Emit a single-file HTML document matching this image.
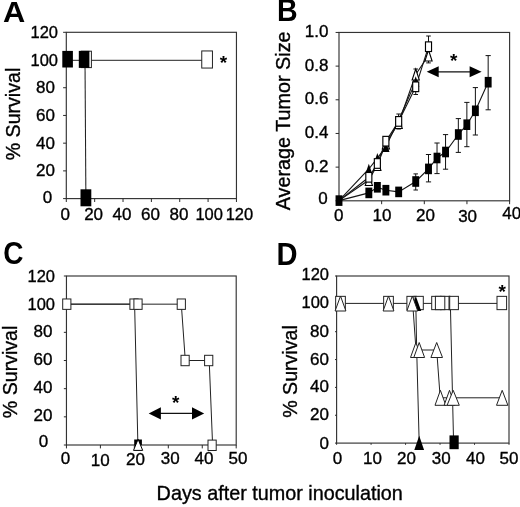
<!DOCTYPE html>
<html><head><meta charset="utf-8"><title>Figure</title>
<style>
html,body{margin:0;padding:0;background:#fff;}
body{width:520px;height:507px;overflow:hidden;}
svg{display:block;will-change:transform;}
svg text{font-family:"Liberation Sans",sans-serif;fill:#000;stroke:#000;stroke-width:0.35px;paint-order:stroke;}
svg text.b{stroke:none;}
</style></head><body>
<svg width="520" height="507" viewBox="0 0 520 507">
<rect x="0" y="0" width="520" height="507" fill="#fff"/>
<rect x="66.30" y="32.30" width="170.15" height="166.30" fill="none" stroke="#333" stroke-width="1.15"/>
<line x1="63.10" y1="198.60" x2="66.30" y2="198.60" stroke="#2a2a2a" stroke-width="1.0"/>
<line x1="66.30" y1="198.60" x2="66.30" y2="202.00" stroke="#2a2a2a" stroke-width="1.0"/>
<line x1="63.10" y1="170.88" x2="66.30" y2="170.88" stroke="#2a2a2a" stroke-width="1.0"/>
<line x1="94.66" y1="198.60" x2="94.66" y2="202.00" stroke="#2a2a2a" stroke-width="1.0"/>
<line x1="63.10" y1="143.17" x2="66.30" y2="143.17" stroke="#2a2a2a" stroke-width="1.0"/>
<line x1="123.02" y1="198.60" x2="123.02" y2="202.00" stroke="#2a2a2a" stroke-width="1.0"/>
<line x1="63.10" y1="115.45" x2="66.30" y2="115.45" stroke="#2a2a2a" stroke-width="1.0"/>
<line x1="151.38" y1="198.60" x2="151.38" y2="202.00" stroke="#2a2a2a" stroke-width="1.0"/>
<line x1="63.10" y1="87.73" x2="66.30" y2="87.73" stroke="#2a2a2a" stroke-width="1.0"/>
<line x1="179.73" y1="198.60" x2="179.73" y2="202.00" stroke="#2a2a2a" stroke-width="1.0"/>
<line x1="63.10" y1="60.02" x2="66.30" y2="60.02" stroke="#2a2a2a" stroke-width="1.0"/>
<line x1="208.09" y1="198.60" x2="208.09" y2="202.00" stroke="#2a2a2a" stroke-width="1.0"/>
<line x1="63.10" y1="32.30" x2="66.30" y2="32.30" stroke="#2a2a2a" stroke-width="1.0"/>
<line x1="236.45" y1="198.60" x2="236.45" y2="202.00" stroke="#2a2a2a" stroke-width="1.0"/>
<text x="52.30" y="203.30" font-size="17" text-anchor="end" font-weight="normal" >0</text>
<text x="55.00" y="176.18" font-size="17" text-anchor="end" font-weight="normal" >20</text>
<text x="55.00" y="148.67" font-size="17" text-anchor="end" font-weight="normal" >40</text>
<text x="55.00" y="120.95" font-size="17" text-anchor="end" font-weight="normal" >60</text>
<text x="55.00" y="93.23" font-size="17" text-anchor="end" font-weight="normal" >80</text>
<text x="58.00" y="65.52" font-size="17" text-anchor="end" font-weight="normal"  textLength="27.5" lengthAdjust="spacingAndGlyphs">100</text>
<text x="58.00" y="37.80" font-size="17" text-anchor="end" font-weight="normal"  textLength="27.5" lengthAdjust="spacingAndGlyphs">120</text>
<text x="65.30" y="220.40" font-size="17" text-anchor="middle" font-weight="normal" >0</text>
<text x="93.60" y="220.40" font-size="17" text-anchor="middle" font-weight="normal" >20</text>
<text x="122.00" y="220.40" font-size="17" text-anchor="middle" font-weight="normal" >40</text>
<text x="150.40" y="220.40" font-size="17" text-anchor="middle" font-weight="normal" >60</text>
<text x="179.00" y="220.40" font-size="17" text-anchor="middle" font-weight="normal" >80</text>
<text x="209.20" y="220.40" font-size="17" text-anchor="middle" font-weight="normal"  textLength="27.5" lengthAdjust="spacingAndGlyphs">100</text>
<text x="239.40" y="220.40" font-size="17" text-anchor="middle" font-weight="normal"  textLength="27.5" lengthAdjust="spacingAndGlyphs">120</text>
<line x1="66.30" y1="60.30" x2="207.00" y2="60.30" stroke="#222" stroke-width="1.0"/>
<line x1="85.00" y1="60.30" x2="85.90" y2="198.60" stroke="#222" stroke-width="1.05"/>
<rect x="81.20" y="51.20" width="10.20" height="16.40" fill="#fff" stroke="#222" stroke-width="1.0"/>
<rect x="62.30" y="50.90" width="10.60" height="16.60" fill="#000"/>
<rect x="78.80" y="50.90" width="10.60" height="17.00" fill="#000"/>
<rect x="80.50" y="189.30" width="10.80" height="17.00" fill="#000"/>
<rect x="201.75" y="50.95" width="10.70" height="17.10" fill="#fff" stroke="#222" stroke-width="1.0"/>
<text x="219.70" y="69.30" font-size="19" font-weight="bold" class="b">*</text>
<text transform="translate(3.00,21.90) scale(1.1,1.08)" font-size="28" font-weight="bold" class="b">A</text>
<text transform="translate(20.00,160.30) rotate(-90)" font-size="19.6" text-anchor="start" >% Survival</text>
<rect x="339.00" y="32.45" width="170.60" height="168.35" fill="none" stroke="#333" stroke-width="1.15"/>
<line x1="335.60" y1="200.80" x2="339.00" y2="200.80" stroke="#2a2a2a" stroke-width="1.0"/>
<line x1="335.60" y1="167.13" x2="339.00" y2="167.13" stroke="#2a2a2a" stroke-width="1.0"/>
<line x1="335.60" y1="133.46" x2="339.00" y2="133.46" stroke="#2a2a2a" stroke-width="1.0"/>
<line x1="335.60" y1="99.79" x2="339.00" y2="99.79" stroke="#2a2a2a" stroke-width="1.0"/>
<line x1="335.60" y1="66.12" x2="339.00" y2="66.12" stroke="#2a2a2a" stroke-width="1.0"/>
<line x1="335.60" y1="32.45" x2="339.00" y2="32.45" stroke="#2a2a2a" stroke-width="1.0"/>
<line x1="339.00" y1="200.80" x2="339.00" y2="204.20" stroke="#2a2a2a" stroke-width="1.0"/>
<line x1="381.65" y1="200.80" x2="381.65" y2="204.20" stroke="#2a2a2a" stroke-width="1.0"/>
<line x1="424.30" y1="200.80" x2="424.30" y2="204.20" stroke="#2a2a2a" stroke-width="1.0"/>
<line x1="466.95" y1="200.80" x2="466.95" y2="204.20" stroke="#2a2a2a" stroke-width="1.0"/>
<line x1="509.60" y1="200.80" x2="509.60" y2="204.20" stroke="#2a2a2a" stroke-width="1.0"/>
<text x="327.80" y="203.70" font-size="17" text-anchor="end" font-weight="normal" >0</text>
<text x="328.50" y="171.83" font-size="17" text-anchor="end" font-weight="normal" >0.2</text>
<text x="328.50" y="138.16" font-size="17" text-anchor="end" font-weight="normal" >0.4</text>
<text x="328.50" y="104.49" font-size="17" text-anchor="end" font-weight="normal" >0.6</text>
<text x="328.50" y="70.82" font-size="17" text-anchor="end" font-weight="normal" >0.8</text>
<text x="328.50" y="37.15" font-size="17" text-anchor="end" font-weight="normal" >1.0</text>
<text x="338.80" y="221.30" font-size="17" text-anchor="middle" font-weight="normal" >0</text>
<text x="382.00" y="221.30" font-size="17" text-anchor="middle" font-weight="normal" >10</text>
<text x="425.50" y="221.30" font-size="17" text-anchor="middle" font-weight="normal" >20</text>
<text x="467.60" y="222.00" font-size="17" text-anchor="middle" font-weight="normal" >30</text>
<text x="511.80" y="218.70" font-size="17" text-anchor="middle" font-weight="normal" >40</text>
<polyline points="339.00,200.60 368.83,169.00 377.36,158.20 385.88,146.80 398.67,120.00 415.72,81.60" fill="none" stroke="#151515" stroke-width="1.1"/>
<polyline points="339.00,200.60 368.83,180.00 377.36,165.00 385.88,143.50 398.67,123.00 415.72,74.50 428.50,55.50" fill="none" stroke="#151515" stroke-width="1.1"/>
<polyline points="339.00,200.60 368.83,177.30 377.36,163.50 385.88,141.20 398.67,121.40 415.72,86.80 428.50,46.70" fill="none" stroke="#151515" stroke-width="1.1"/>
<polyline points="339.00,200.60 368.83,192.90 377.36,187.30 385.88,190.20 398.67,191.90 415.72,181.50 428.50,168.90 437.03,158.00 445.55,152.00 458.34,134.50 466.86,124.70 475.38,110.80 488.17,82.20" fill="none" stroke="#151515" stroke-width="1.1"/>
<line x1="428.50" y1="154.50" x2="428.50" y2="181.90" stroke="#111" stroke-width="1.0"/>
<line x1="425.90" y1="154.50" x2="431.10" y2="154.50" stroke="#111" stroke-width="1.0"/>
<line x1="425.90" y1="181.90" x2="431.10" y2="181.90" stroke="#111" stroke-width="1.0"/>
<line x1="437.03" y1="143.00" x2="437.03" y2="173.60" stroke="#111" stroke-width="1.0"/>
<line x1="434.43" y1="143.00" x2="439.63" y2="143.00" stroke="#111" stroke-width="1.0"/>
<line x1="434.43" y1="173.60" x2="439.63" y2="173.60" stroke="#111" stroke-width="1.0"/>
<line x1="445.55" y1="134.60" x2="445.55" y2="169.20" stroke="#111" stroke-width="1.0"/>
<line x1="442.95" y1="134.60" x2="448.15" y2="134.60" stroke="#111" stroke-width="1.0"/>
<line x1="442.95" y1="169.20" x2="448.15" y2="169.20" stroke="#111" stroke-width="1.0"/>
<line x1="458.34" y1="118.60" x2="458.34" y2="152.40" stroke="#111" stroke-width="1.0"/>
<line x1="455.74" y1="118.60" x2="460.94" y2="118.60" stroke="#111" stroke-width="1.0"/>
<line x1="455.74" y1="152.40" x2="460.94" y2="152.40" stroke="#111" stroke-width="1.0"/>
<line x1="466.86" y1="102.40" x2="466.86" y2="146.70" stroke="#111" stroke-width="1.0"/>
<line x1="464.26" y1="102.40" x2="469.46" y2="102.40" stroke="#111" stroke-width="1.0"/>
<line x1="464.26" y1="146.70" x2="469.46" y2="146.70" stroke="#111" stroke-width="1.0"/>
<line x1="475.38" y1="87.60" x2="475.38" y2="135.00" stroke="#111" stroke-width="1.0"/>
<line x1="472.78" y1="87.60" x2="477.98" y2="87.60" stroke="#111" stroke-width="1.0"/>
<line x1="472.78" y1="135.00" x2="477.98" y2="135.00" stroke="#111" stroke-width="1.0"/>
<line x1="488.17" y1="55.60" x2="488.17" y2="109.80" stroke="#111" stroke-width="1.0"/>
<line x1="485.57" y1="55.60" x2="490.77" y2="55.60" stroke="#111" stroke-width="1.0"/>
<line x1="485.57" y1="109.80" x2="490.77" y2="109.80" stroke="#111" stroke-width="1.0"/>
<line x1="415.72" y1="173.90" x2="415.72" y2="190.00" stroke="#111" stroke-width="1.0"/>
<line x1="413.47" y1="173.90" x2="417.97" y2="173.90" stroke="#111" stroke-width="1.0"/>
<line x1="413.47" y1="190.00" x2="417.97" y2="190.00" stroke="#111" stroke-width="1.0"/>
<line x1="428.50" y1="36.00" x2="428.50" y2="62.90" stroke="#111" stroke-width="1.0"/>
<line x1="426.20" y1="36.00" x2="430.80" y2="36.00" stroke="#111" stroke-width="1.0"/>
<line x1="426.20" y1="62.90" x2="430.80" y2="62.90" stroke="#111" stroke-width="1.0"/>
<line x1="415.72" y1="69.00" x2="415.72" y2="94.50" stroke="#111" stroke-width="1.0"/>
<line x1="413.42" y1="69.00" x2="418.02" y2="69.00" stroke="#111" stroke-width="1.0"/>
<line x1="413.42" y1="94.50" x2="418.02" y2="94.50" stroke="#111" stroke-width="1.0"/>
<line x1="398.67" y1="114.00" x2="398.67" y2="129.00" stroke="#111" stroke-width="1.0"/>
<line x1="396.37" y1="114.00" x2="400.97" y2="114.00" stroke="#111" stroke-width="1.0"/>
<line x1="396.37" y1="129.00" x2="400.97" y2="129.00" stroke="#111" stroke-width="1.0"/>
<line x1="368.83" y1="171.00" x2="368.83" y2="185.00" stroke="#111" stroke-width="1.0"/>
<line x1="366.83" y1="171.00" x2="370.83" y2="171.00" stroke="#111" stroke-width="1.0"/>
<line x1="366.83" y1="185.00" x2="370.83" y2="185.00" stroke="#111" stroke-width="1.0"/>
<polygon points="368.83,174.50 372.43,185.50 365.23,185.50" fill="#fff" stroke="#000" stroke-width="1.1" stroke-linejoin="miter"/>
<polygon points="377.36,159.50 380.96,170.50 373.76,170.50" fill="#fff" stroke="#000" stroke-width="1.1" stroke-linejoin="miter"/>
<polygon points="385.88,138.00 389.48,149.00 382.28,149.00" fill="#fff" stroke="#000" stroke-width="1.1" stroke-linejoin="miter"/>
<polygon points="398.67,117.50 402.27,128.50 395.07,128.50" fill="#fff" stroke="#000" stroke-width="1.1" stroke-linejoin="miter"/>
<polygon points="415.72,69.00 419.32,80.00 412.12,80.00" fill="#fff" stroke="#000" stroke-width="1.1" stroke-linejoin="miter"/>
<polygon points="428.50,50.00 432.10,61.00 424.90,61.00" fill="#fff" stroke="#000" stroke-width="1.1" stroke-linejoin="miter"/>
<polygon points="368.83,163.75 372.43,174.25 365.23,174.25" fill="#000"/>
<polygon points="377.36,152.95 380.96,163.45 373.76,163.45" fill="#000"/>
<polygon points="385.88,141.55 389.48,152.05 382.28,152.05" fill="#000"/>
<polygon points="398.67,114.75 402.27,125.25 395.07,125.25" fill="#000"/>
<polygon points="415.72,76.35 419.32,86.85 412.12,86.85" fill="#000"/>
<rect x="365.81" y="172.47" width="6.05" height="9.65" fill="#fff" stroke="#000" stroke-width="1.15"/>
<rect x="374.33" y="158.67" width="6.05" height="9.65" fill="#fff" stroke="#000" stroke-width="1.15"/>
<rect x="382.86" y="136.37" width="6.05" height="9.65" fill="#fff" stroke="#000" stroke-width="1.15"/>
<rect x="395.64" y="116.58" width="6.05" height="9.65" fill="#fff" stroke="#000" stroke-width="1.15"/>
<rect x="412.69" y="81.97" width="6.05" height="9.65" fill="#fff" stroke="#000" stroke-width="1.15"/>
<rect x="425.48" y="41.88" width="6.05" height="9.65" fill="#fff" stroke="#000" stroke-width="1.15"/>
<rect x="335.55" y="195.30" width="6.90" height="10.60" fill="#000"/>
<rect x="365.38" y="187.60" width="6.90" height="10.60" fill="#000"/>
<rect x="373.91" y="182.00" width="6.90" height="10.60" fill="#000"/>
<rect x="382.43" y="184.90" width="6.90" height="10.60" fill="#000"/>
<rect x="395.22" y="186.60" width="6.90" height="10.60" fill="#000"/>
<rect x="412.27" y="176.20" width="6.90" height="10.60" fill="#000"/>
<rect x="425.05" y="163.60" width="6.90" height="10.60" fill="#000"/>
<rect x="433.58" y="152.70" width="6.90" height="10.60" fill="#000"/>
<rect x="442.10" y="146.70" width="6.90" height="10.60" fill="#000"/>
<rect x="454.89" y="129.20" width="6.90" height="10.60" fill="#000"/>
<rect x="463.41" y="119.40" width="6.90" height="10.60" fill="#000"/>
<rect x="471.93" y="105.50" width="6.90" height="10.60" fill="#000"/>
<rect x="484.72" y="76.90" width="6.90" height="10.60" fill="#000"/>
<line x1="437.70" y1="71.80" x2="470.60" y2="71.80" stroke="#111" stroke-width="1.2"/>
<polygon points="426.70,71.80 438.70,66.30 438.70,77.30" fill="#000"/>
<polygon points="481.60,71.80 469.60,66.30 469.60,77.30" fill="#000"/>
<text x="449.90" y="67.20" font-size="19" font-weight="bold" class="b">*</text>
<text transform="translate(276.90,21.20) scale(1.02,1.1)" font-size="28" font-weight="bold" class="b">B</text>
<text transform="translate(289.60,210.30) rotate(-90)" font-size="19.8" text-anchor="start" >Average Tumor Size</text>
<rect x="66.45" y="276.00" width="169.75" height="169.00" fill="none" stroke="#333" stroke-width="1.15"/>
<line x1="63.85" y1="445.00" x2="66.45" y2="445.00" stroke="#2a2a2a" stroke-width="1.0"/>
<line x1="63.85" y1="416.83" x2="66.45" y2="416.83" stroke="#2a2a2a" stroke-width="1.0"/>
<line x1="63.85" y1="388.67" x2="66.45" y2="388.67" stroke="#2a2a2a" stroke-width="1.0"/>
<line x1="63.85" y1="360.50" x2="66.45" y2="360.50" stroke="#2a2a2a" stroke-width="1.0"/>
<line x1="63.85" y1="332.33" x2="66.45" y2="332.33" stroke="#2a2a2a" stroke-width="1.0"/>
<line x1="63.85" y1="304.17" x2="66.45" y2="304.17" stroke="#2a2a2a" stroke-width="1.0"/>
<line x1="63.85" y1="276.00" x2="66.45" y2="276.00" stroke="#2a2a2a" stroke-width="1.0"/>
<line x1="66.45" y1="445.00" x2="66.45" y2="448.40" stroke="#2a2a2a" stroke-width="1.0"/>
<line x1="100.40" y1="445.00" x2="100.40" y2="448.40" stroke="#2a2a2a" stroke-width="1.0"/>
<line x1="134.35" y1="445.00" x2="134.35" y2="448.40" stroke="#2a2a2a" stroke-width="1.0"/>
<line x1="168.30" y1="445.00" x2="168.30" y2="448.40" stroke="#2a2a2a" stroke-width="1.0"/>
<line x1="202.25" y1="445.00" x2="202.25" y2="448.40" stroke="#2a2a2a" stroke-width="1.0"/>
<line x1="236.20" y1="445.00" x2="236.20" y2="448.40" stroke="#2a2a2a" stroke-width="1.0"/>
<text x="48.20" y="447.20" font-size="17" text-anchor="end" font-weight="normal" >0</text>
<text x="52.40" y="420.53" font-size="17" text-anchor="end" font-weight="normal" >20</text>
<text x="52.40" y="393.27" font-size="17" text-anchor="end" font-weight="normal" >40</text>
<text x="52.40" y="365.20" font-size="17" text-anchor="end" font-weight="normal" >60</text>
<text x="52.40" y="337.33" font-size="17" text-anchor="end" font-weight="normal" >80</text>
<text x="55.00" y="309.87" font-size="17" text-anchor="end" font-weight="normal"  textLength="27.5" lengthAdjust="spacingAndGlyphs">100</text>
<text x="55.00" y="282.20" font-size="17" text-anchor="end" font-weight="normal"  textLength="27.5" lengthAdjust="spacingAndGlyphs">120</text>
<text x="65.60" y="463.80" font-size="17" text-anchor="middle" font-weight="normal" >0</text>
<text x="100.20" y="465.50" font-size="17" text-anchor="middle" font-weight="normal" >10</text>
<text x="135.40" y="464.60" font-size="17" text-anchor="middle" font-weight="normal" >20</text>
<text x="170.20" y="464.40" font-size="17" text-anchor="middle" font-weight="normal" >30</text>
<text x="204.00" y="464.40" font-size="17" text-anchor="middle" font-weight="normal" >40</text>
<text x="237.90" y="464.40" font-size="17" text-anchor="middle" font-weight="normal" >50</text>
<polyline points="66.45,304.17 134.60,304.17 137.90,445.00" fill="none" stroke="#222" stroke-width="1.0"/>
<polyline points="66.45,304.17 181.30,304.17 185.30,360.50 209.20,360.50 212.60,445.00" fill="none" stroke="#222" stroke-width="1.0"/>
<rect x="62.70" y="298.97" width="8.20" height="10.40" fill="#fff" stroke="#222" stroke-width="1.0"/>
<rect x="129.90" y="298.97" width="8.20" height="10.40" fill="#fff" stroke="#222" stroke-width="1.0"/>
<rect x="133.90" y="298.97" width="8.20" height="10.40" fill="#fff" stroke="#222" stroke-width="1.0"/>
<rect x="177.20" y="298.97" width="8.20" height="10.40" fill="#fff" stroke="#222" stroke-width="1.0"/>
<rect x="181.00" y="355.30" width="8.20" height="10.40" fill="#fff" stroke="#222" stroke-width="1.0"/>
<rect x="204.60" y="355.30" width="8.20" height="10.40" fill="#fff" stroke="#222" stroke-width="1.0"/>
<rect x="208.00" y="440.10" width="8.20" height="10.40" fill="#fff" stroke="#222" stroke-width="1.0"/>
<rect x="134.2" y="439.5" width="7.7" height="5.6" fill="#000"/>
<polygon points="138.10,439.20 142.70,450.40 133.50,450.40" fill="#fff" stroke="#000" stroke-width="1.0" stroke-linejoin="miter"/>
<line x1="159.90" y1="413.40" x2="193.00" y2="413.40" stroke="#111" stroke-width="1.2"/>
<polygon points="148.70,413.40 160.90,407.30 160.90,419.50" fill="#000"/>
<polygon points="204.20,413.40 192.00,407.30 192.00,419.50" fill="#000"/>
<text x="171.90" y="409.30" font-size="19" font-weight="bold" class="b">*</text>
<text transform="translate(3.30,263.60) scale(1.0,1.12)" font-size="28" font-weight="bold" class="b">C</text>
<text transform="translate(17.00,418.20) rotate(-90)" font-size="19.6" text-anchor="start" >% Survival</text>
<rect x="336.60" y="276.00" width="172.40" height="167.10" fill="none" stroke="#333" stroke-width="1.15"/>
<line x1="335.00" y1="443.10" x2="336.60" y2="443.10" stroke="#2a2a2a" stroke-width="1.0"/>
<line x1="335.00" y1="415.25" x2="336.60" y2="415.25" stroke="#2a2a2a" stroke-width="1.0"/>
<line x1="335.00" y1="387.40" x2="336.60" y2="387.40" stroke="#2a2a2a" stroke-width="1.0"/>
<line x1="335.00" y1="359.55" x2="336.60" y2="359.55" stroke="#2a2a2a" stroke-width="1.0"/>
<line x1="335.00" y1="331.70" x2="336.60" y2="331.70" stroke="#2a2a2a" stroke-width="1.0"/>
<line x1="335.00" y1="303.85" x2="336.60" y2="303.85" stroke="#2a2a2a" stroke-width="1.0"/>
<line x1="335.00" y1="276.00" x2="336.60" y2="276.00" stroke="#2a2a2a" stroke-width="1.0"/>
<line x1="336.60" y1="443.10" x2="336.60" y2="444.80" stroke="#2a2a2a" stroke-width="1.0"/>
<line x1="371.08" y1="443.10" x2="371.08" y2="444.80" stroke="#2a2a2a" stroke-width="1.0"/>
<line x1="405.56" y1="443.10" x2="405.56" y2="444.80" stroke="#2a2a2a" stroke-width="1.0"/>
<line x1="440.04" y1="443.10" x2="440.04" y2="444.80" stroke="#2a2a2a" stroke-width="1.0"/>
<line x1="474.52" y1="443.10" x2="474.52" y2="444.80" stroke="#2a2a2a" stroke-width="1.0"/>
<line x1="509.00" y1="443.10" x2="509.00" y2="444.80" stroke="#2a2a2a" stroke-width="1.0"/>
<text x="329.00" y="448.60" font-size="17" text-anchor="end" font-weight="normal" >0</text>
<text x="329.00" y="420.25" font-size="17" text-anchor="end" font-weight="normal" >20</text>
<text x="329.00" y="391.90" font-size="17" text-anchor="end" font-weight="normal" >40</text>
<text x="329.00" y="364.65" font-size="17" text-anchor="end" font-weight="normal" >60</text>
<text x="329.00" y="336.50" font-size="17" text-anchor="end" font-weight="normal" >80</text>
<text x="329.00" y="307.95" font-size="17" text-anchor="end" font-weight="normal"  textLength="27.5" lengthAdjust="spacingAndGlyphs">100</text>
<text x="329.00" y="279.70" font-size="17" text-anchor="end" font-weight="normal"  textLength="27.5" lengthAdjust="spacingAndGlyphs">120</text>
<text x="337.40" y="464.40" font-size="17" text-anchor="middle" font-weight="normal" >0</text>
<text x="372.50" y="464.40" font-size="17" text-anchor="middle" font-weight="normal" >10</text>
<text x="406.50" y="464.40" font-size="17" text-anchor="middle" font-weight="normal" >20</text>
<text x="441.20" y="464.40" font-size="17" text-anchor="middle" font-weight="normal" >30</text>
<text x="475.40" y="464.40" font-size="17" text-anchor="middle" font-weight="normal" >40</text>
<text x="509.00" y="464.40" font-size="17" text-anchor="middle" font-weight="normal" >50</text>
<line x1="340.05" y1="303.40" x2="501.80" y2="303.40" stroke="#222" stroke-width="1.0"/>
<polyline points="412.70,303.40 416.00,350.00 436.70,350.00 440.20,397.80 502.20,397.80" fill="none" stroke="#222" stroke-width="1.0"/>
<polyline points="415.80,303.40 416.70,350.00 419.20,443.10" fill="none" stroke="#222" stroke-width="1.0"/>
<polyline points="450.50,310.00 453.60,443.10" fill="none" stroke="#222" stroke-width="1.0"/>
<rect x="335.65" y="296.35" width="9.70" height="13.30" fill="#fff" stroke="#222" stroke-width="1.0"/>
<polygon points="340.50,296.00 345.90,311.00 335.10,311.00" fill="#fff" stroke="#222" stroke-width="1.0" stroke-linejoin="miter"/>
<rect x="383.65" y="296.35" width="9.70" height="13.30" fill="#fff" stroke="#222" stroke-width="1.0"/>
<polygon points="388.50,296.00 393.90,311.00 383.10,311.00" fill="#fff" stroke="#222" stroke-width="1.0" stroke-linejoin="miter"/>
<rect x="406.90" y="296.35" width="9.40" height="13.30" fill="#fff" stroke="#222" stroke-width="1.0"/>
<rect x="413.90" y="296.35" width="9.40" height="13.30" fill="#fff" stroke="#222" stroke-width="1.0"/>
<polygon points="415.80,296.00 421.20,311.00 410.40,311.00" fill="#000"/>
<polygon points="412.30,296.00 417.75,311.00 406.85,311.00" fill="#fff" stroke="#222" stroke-width="1.0" stroke-linejoin="miter"/>
<rect x="440.50" y="296.35" width="9.40" height="13.30" fill="#fff" stroke="#222" stroke-width="1.0"/>
<rect x="431.70" y="296.35" width="9.40" height="13.30" fill="#fff" stroke="#222" stroke-width="1.0"/>
<rect x="435.40" y="296.35" width="9.40" height="13.30" fill="#fff" stroke="#222" stroke-width="1.0"/>
<rect x="449.00" y="296.35" width="9.40" height="13.30" fill="#fff" stroke="#222" stroke-width="1.0"/>
<line x1="449.70" y1="295.85" x2="449.70" y2="310.15" stroke="#222" stroke-width="1.0"/>
<rect x="497.00" y="296.35" width="9.60" height="13.30" fill="#fff" stroke="#222" stroke-width="1.0"/>
<polygon points="415.90,342.50 421.30,357.50 410.50,357.50" fill="#fff" stroke="#222" stroke-width="1.0" stroke-linejoin="miter"/>
<polygon points="419.20,342.50 424.60,357.50 413.80,357.50" fill="#fff" stroke="#222" stroke-width="1.0" stroke-linejoin="miter"/>
<polygon points="436.70,342.50 442.50,357.50 430.90,357.50" fill="#fff" stroke="#222" stroke-width="1.0" stroke-linejoin="miter"/>
<polygon points="440.40,390.30 445.80,405.30 435.00,405.30" fill="#fff" stroke="#222" stroke-width="1.0" stroke-linejoin="miter"/>
<polygon points="449.50,390.30 454.90,405.30 444.10,405.30" fill="#fff" stroke="#222" stroke-width="1.0" stroke-linejoin="miter"/>
<polygon points="453.20,390.30 459.30,405.30 447.10,405.30" fill="#fff" stroke="#222" stroke-width="1.0" stroke-linejoin="miter"/>
<polygon points="502.20,390.30 507.90,405.30 496.50,405.30" fill="#fff" stroke="#222" stroke-width="1.0" stroke-linejoin="miter"/>
<polygon points="419.20,435.80 424.10,450.00 414.30,450.00" fill="#000"/>
<rect x="449.50" y="435.40" width="9.20" height="13.80" fill="#000"/>
<text x="498.40" y="297.80" font-size="19" font-weight="bold" class="b">*</text>
<text transform="translate(276.60,264.60) scale(1.04,1.125)" font-size="28" font-weight="bold" class="b">D</text>
<text transform="translate(296.80,417.80) rotate(-90)" font-size="19.6" text-anchor="start" >% Survival</text>
<text x="156.60" y="500.00" font-size="19.8" text-anchor="start" font-weight="normal" >Days after tumor inoculation</text>
</svg>
</body></html>
